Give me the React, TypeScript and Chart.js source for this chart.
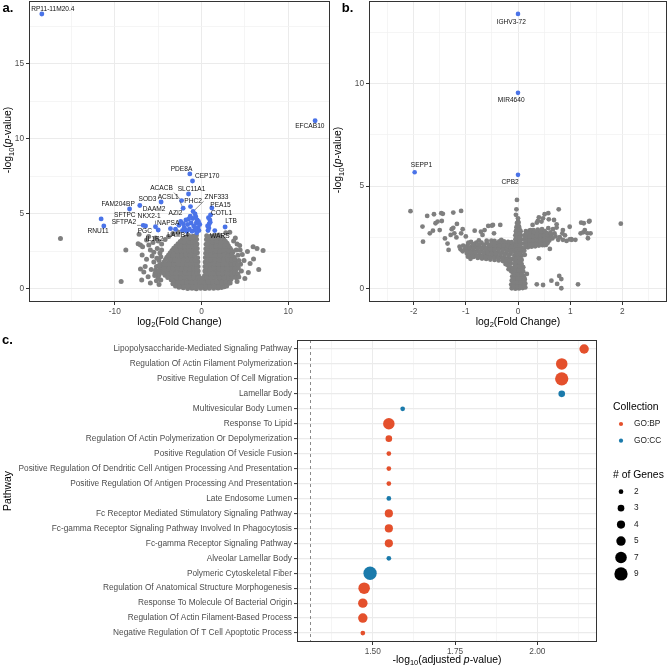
import React, { useEffect, useRef } from "react";
import { Chart, registerables } from "chart.js";
Chart.register(...registerables);

const FONT = "'Liberation Sans', Arial, Helvetica, sans-serif";

// ---------------- Panel a data ----------------
const aXTicks = [-10, 0, 10];
const aYTicks = [0, 5, 10, 15];
const aGray: [number, number][] = [
  [-2.1,0.08],[-1.6,0.03],[-1.1,0.05],[-0.6,0.02],[-0.1,0.04],[0.4,0.03],[0.9,0.05],[1.4,0.04],[1.9,0.07],[2.3,0.1],
  [-2.9,0.32],[-2.4,0.28],[-1.9,0.3],[-1.35,0.27],[-0.85,0.31],[-0.35,0.28],[0.15,0.3],[0.65,0.27],[1.15,0.31],[1.65,0.29],[2.15,0.3],[2.65,0.33],[3.05,0.36],
  [-3.5,0.62],[-3.0,0.58],[-2.5,0.6],[-2.0,0.57],[-1.5,0.61],[-1.0,0.59],[-0.5,0.6],[0.0,0.58],[0.5,0.61],[1.0,0.6],[1.5,0.57],[2.0,0.6],[2.5,0.62],[3.0,0.6],[3.4,0.64],
  [-4.2,0.92],[-3.7,0.88],[-3.2,0.9],[-2.7,0.87],[-2.2,0.91],[-1.7,0.89],[-1.2,0.9],[-0.75,0.88],[-0.36,0.92],[0.36,0.9],[0.8,0.88],[1.3,0.91],[1.8,0.9],[2.3,0.87],[2.8,0.9],[3.3,0.92],[3.7,0.95],
  [-4.6,1.22],[-4.1,1.18],[-3.6,1.2],[-3.1,1.17],[-2.6,1.21],[-2.1,1.19],[-1.6,1.2],[-1.1,1.18],[-0.7,1.22],[-0.38,1.2],[0.38,1.19],[0.75,1.21],[1.2,1.18],[1.7,1.2],[2.2,1.22],[2.7,1.19],[3.2,1.2],[3.7,1.18],[3.95,1.25],
  [-4.5,1.52],[-4.0,1.48],[-3.5,1.5],[-3.0,1.47],[-2.5,1.51],[-2.0,1.49],[-1.5,1.5],[-1.0,1.48],[-0.7,1.52],[-0.4,1.5],[0.4,1.49],[0.75,1.51],[1.2,1.48],[1.7,1.5],[2.2,1.52],[2.7,1.49],[3.2,1.5],[3.7,1.48],[3.95,1.55],
  [-4.3,1.82],[-3.8,1.78],[-3.3,1.8],[-2.8,1.77],[-2.3,1.81],[-1.8,1.79],[-1.3,1.8],[-0.85,1.78],[-0.42,1.82],[0.42,1.79],[0.8,1.81],[1.25,1.78],[1.75,1.8],[2.25,1.82],[2.75,1.79],[3.25,1.8],[3.7,1.78],[3.95,1.85],
  [-4.0,2.12],[-3.5,2.08],[-3.0,2.1],[-2.5,2.07],[-2.0,2.11],[-1.5,2.09],[-1.0,2.1],[-0.45,2.08],[0.45,2.1],[0.85,2.12],[1.3,2.08],[1.8,2.1],[2.3,2.11],[2.8,2.08],[3.3,2.1],[3.75,2.12],
  [-3.6,2.42],[-3.1,2.38],[-2.6,2.4],[-2.1,2.37],[-1.6,2.41],[-1.1,2.39],[-0.75,2.4],[-0.48,2.42],[0.48,2.38],[0.9,2.41],[1.35,2.4],[1.85,2.38],[2.35,2.42],[2.85,2.4],[3.3,2.39],[3.6,2.44],
  [-3.2,2.72],[-2.7,2.68],[-2.2,2.7],[-1.7,2.67],[-1.2,2.71],[-0.8,2.69],[-0.5,2.7],[0.5,2.68],[0.9,2.71],[1.4,2.69],[1.9,2.7],[2.4,2.72],[2.9,2.68],[3.3,2.71],
  [-2.7,3.02],[-2.2,2.98],[-1.7,3.0],[-1.2,2.97],[-0.85,3.01],[-0.53,3.0],[0.53,2.98],[0.95,3.01],[1.45,3.0],[1.95,2.98],[2.45,3.02],[2.95,3.05],
  [-2.2,3.32],[-1.7,3.28],[-1.2,3.3],[-0.85,3.27],[-0.57,3.31],[0.57,3.29],[1.0,3.31],[1.5,3.28],[2.0,3.3],[2.55,3.33],
  [-1.5,3.56],[-1.0,3.52],[-0.6,3.58],[0.6,3.55],[1.05,3.52],[1.55,3.57],[2.0,3.6],
  [-2.55,0.18],[-2.05,0.16],[-1.55,0.17],[-1.05,0.15],[-0.55,0.18],[-0.05,0.16],[0.45,0.17],[0.95,0.15],[1.45,0.18],[1.95,0.16],[2.45,0.2],[2.75,0.22],
  [-3.2,0.46],[-2.7,0.44],[-2.2,0.45],[-1.7,0.43],[-1.2,0.46],[-0.7,0.44],[-0.2,0.45],[0.3,0.43],[0.8,0.46],[1.3,0.44],[1.8,0.45],[2.3,0.43],[2.8,0.46],[3.25,0.5],
  [-3.9,0.76],[-3.4,0.74],[-2.9,0.75],[-2.4,0.73],[-1.9,0.76],[-1.4,0.74],[-0.9,0.75],[-0.45,0.73],[-0.2,0.72],[0.2,0.74],[0.6,0.75],[1.1,0.73],[1.6,0.76],[2.1,0.74],[2.6,0.75],[3.1,0.73],[3.55,0.78],
  [-4.4,1.06],[-3.9,1.04],[-3.4,1.05],[-2.9,1.03],[-2.4,1.06],[-1.9,1.04],[-1.4,1.05],[-0.9,1.03],[-0.55,1.06],[0.55,1.04],[1.0,1.05],[1.45,1.03],[1.95,1.06],[2.45,1.04],[2.95,1.05],[3.45,1.03],[3.85,1.08],
  [-4.75,1.36],[-4.3,1.34],[-3.8,1.35],[-3.3,1.33],[-2.8,1.36],[-2.3,1.34],[-1.8,1.35],[-1.3,1.33],[-0.9,1.36],[-0.55,1.34],[0.55,1.35],[0.95,1.33],[1.45,1.36],[1.95,1.34],[2.45,1.35],[2.95,1.33],[3.45,1.36],[3.85,1.38],
  [-4.55,1.66],[-4.2,1.64],[-3.7,1.65],[-3.2,1.63],[-2.7,1.66],[-2.2,1.64],[-1.7,1.65],[-1.2,1.63],[-0.85,1.66],[-0.55,1.64],[0.55,1.65],[1.0,1.63],[1.45,1.66],[1.95,1.64],[2.45,1.65],[2.95,1.63],[3.45,1.66],[3.85,1.68],
  [-4.15,1.96],[-3.6,1.94],[-3.1,1.95],[-2.6,1.93],[-2.1,1.96],[-1.6,1.94],[-1.1,1.95],[-0.7,1.93],[0.65,1.96],[1.05,1.94],[1.55,1.95],[2.05,1.93],[2.55,1.96],[3.05,1.94],[3.5,1.95],[3.85,1.98],
  [-3.8,2.26],[-3.3,2.24],[-2.8,2.25],[-2.3,2.23],[-1.8,2.26],[-1.3,2.24],[-0.8,2.25],[0.7,2.26],[1.1,2.24],[1.6,2.25],[2.1,2.23],[2.6,2.26],[3.1,2.24],[3.5,2.27],
  [-3.4,2.56],[-2.9,2.54],[-2.4,2.55],[-1.9,2.53],[-1.4,2.56],[-0.95,2.54],[-0.65,2.55],[0.7,2.56],[1.15,2.54],[1.6,2.55],[2.1,2.53],[2.6,2.56],[3.1,2.54],[3.45,2.58],
  [-2.95,2.86],[-2.45,2.84],[-1.95,2.85],[-1.45,2.83],[-1.0,2.86],[-0.68,2.84],[0.72,2.85],[1.15,2.83],[1.65,2.86],[2.15,2.84],[2.65,2.85],[3.1,2.88],
  [-2.45,3.16],[-1.95,3.14],[-1.45,3.15],[-1.0,3.13],[-0.72,3.16],[0.75,3.15],[1.25,3.13],[1.7,3.16],[2.25,3.14],[2.75,3.18],
  [-1.9,3.43],[-1.4,3.41],[-0.95,3.44],[0.8,3.42],[1.3,3.4],[1.75,3.44],[2.3,3.46],
  [-5.0,0.75],[-4.9,1.05],[-5.2,1.5],[-4.85,1.6],[-5.15,2.05],[-4.7,2.15],[-4.9,0.95],[-5.3,1.25],[-4.6,2.6],[-5.5,2.45],[-4.7,0.6],
  [4.2,1.0],[4.25,1.4],[4.3,1.9],[4.2,2.25],[4.5,1.65],[4.0,0.75],[4.45,2.6],[4.1,3.0],
  [-2.6,0.12],[-3.0,0.2],[2.6,0.14],[2.9,0.2],[-3.3,0.35],[3.3,0.4],
  [-16.27,3.36],[-8.73,2.6],[-9.27,0.49],[-7.31,3.02],[-7.2,3.64],[-7.04,2.93],[-6.8,2.82],[-6.34,3.27],[-6.1,3.5],
  [-7.04,1.33],[-6.66,1.13],[-6.5,1.49],[-6.16,0.82],[-6.34,1.98],[-6.85,2.27],[-5.9,2.6],[-5.6,3.1],[-5.3,3.4],
  [-5.0,3.2],[-5.7,2.2],[-5.5,1.8],[-5.8,1.3],[-5.4,0.9],[-5.2,0.55],[-5.9,0.4],[-4.9,0.3],[-5.1,2.7],[-4.8,2.4],
  [-4.6,3.0],[-4.2,3.3],[-3.8,3.5],[-3.3,3.7],[-2.7,3.8],[-6.9,0.6],[-4.9,1.9],[-5.0,1.2],[-6.08,2.93],[-5.35,1.05],
  [3.26,3.78],[5.95,2.82],[7.1,2.56],[6.4,2.7],[5.3,2.5],[5.6,1.7],[5.4,1.1],[5.0,0.7],[4.7,2.3],[4.4,2.9],
  [4.2,1.6],[4.6,1.2],[4.3,0.8],[4.0,2.6],[3.7,3.2],[4.9,1.9],[6.0,2.0],[6.6,1.3],[4.1,0.5],[2.8,3.75],[3.9,3.4],
];
const aBlue: [number, number][] = [
  [-18.42,18.33],[13.1,11.22],[-1.35,7.67],[-1.04,7.2],[-1.5,6.33],[-2.3,5.89],[-2.12,5.38],[-1.27,5.49],[-0.97,5.16],
  [-4.66,5.8],[-7.12,5.56],[-8.3,5.33],[-11.58,4.67],[-11.27,4.2],[-6.73,4.24],[-6.46,4.2],[-5.31,4.15],[-5.0,3.93],
  [-3.58,4.02],[-3.0,3.98],[1.19,5.4],[1.04,4.93],[0.96,4.6],[0.88,4.33],[0.85,4.07],[1.53,3.89],[2.72,4.13],
  [-0.66,4.82],[0.75,3.9],[0.7,4.2],[1.0,4.45],[0.8,4.75],
  [-1.8,4.6],[-2.4,4.5],[-1.6,4.3],[-1.2,4.4],[-0.9,4.2],[-0.6,4.4],[-0.4,4.1],[-0.3,3.9],[-0.8,3.95],[-1.4,4.0],
  [-2.0,4.1],[-2.6,4.25],[-1.0,4.7],[-0.5,4.6],[-2.2,3.9],[-1.7,3.85],[-0.2,4.3],[-1.3,4.85],[-0.75,5.0],
  [-1.1,3.85],[-0.55,3.75],[-1.9,3.95],[-0.35,4.5],[-1.5,4.65],[-2.1,4.35],[-0.7,4.05],
];
const aLabelGenes = [
  "RP11-11M20.4","EFCAB10","PDE8A","CEP170","ACACB","SLC11A1","ZNF333","ACSL1","PHC2","SOD3","FAM204BP","PEA15",
  "DAAM2","SFTPC","NKX2-1","AZI2","COTL1","LTB","SFTPA2","NAPSA","RNU11","PGC","LAMB4","IL1R2","WARS",
];
const aLabelPoints: [number, number][] = [
  [-18.42,18.33],[13.1,11.22],[-1.35,7.67],[-1.04,7.2],[-2.3,5.89],[-1.5,6.33],[-0.97,5.16],[-2.12,5.38],[-1.27,5.49],
  [-4.66,5.8],[-8.3,5.33],[1.19,5.4],[-7.12,5.56],[-8.3,5.33],[-5.31,4.15],[-1.8,4.6],[1.04,4.93],[2.72,4.13],
  [-6.73,4.24],[-3.58,4.02],[-11.27,4.2],[-6.46,4.2],[-3.0,3.98],[-5.0,3.93],[1.53,3.89],
];
const aLabelSpots: [number, number][] = [
  [-17.15,18.65],[12.49,10.87],[-2.31,7.98],[0.65,7.49],[-4.61,6.69],[-1.15,6.65],[1.73,6.11],[-3.85,6.15],[-0.97,5.85],
  [-6.23,5.98],[-9.62,5.67],[2.19,5.58],[-5.47,5.33],[-8.85,4.93],[-6.04,4.82],[-3.0,5.05],[2.31,5.05],[3.41,4.51],
  [-8.96,4.42],[-3.85,4.38],[-11.93,3.85],[-6.54,3.85],[-2.7,3.58],[-5.42,3.35],[2.11,3.49],
];

// ---------------- Panel b data ----------------
const bXTicks = [-2, -1, 0, 1, 2];
const bYTicks = [0, 5, 10];
const bGray: [number, number][] = [
  [-2.06,3.78],[-1.83,3.03],[-1.74,3.55],[-1.61,3.63],[-1.63,2.83],[-1.58,3.19],[-1.54,3.27],[-1.47,3.68],[-1.44,3.65],
  [-1.46,3.3],[-1.24,3.71],[-1.09,3.79],[-1.17,3.16],[-1.27,2.9],[-1.24,2.97],[-1.09,2.7],[-1.29,2.62],[-1.22,2.7],
  [-1.06,2.9],[-1.33,1.89],[-0.91,1.46],[-0.83,2.83],[-0.57,3.06],[-0.48,3.11],[-0.34,3.11],[-0.68,2.62],[-0.71,2.78],
  [-0.46,2.7],[-1.69,2.7],[-1.82,2.29],[-1.5,2.86],[-0.96,1.56],[-0.64,2.86],[-0.5,3.07],[-0.64,1.73],[-1.4,2.45],
  [-1.35,2.2],[-1.18,2.5],[-1.12,2.05],[-1.0,2.55],[-0.95,2.25],[-0.32,2.38],[-0.51,2.34],
  [-0.85,1.55],[-0.77,1.5],[-0.69,1.47],[-0.61,1.45],[-0.53,1.42],[-0.45,1.4],[-0.37,1.38],[-0.29,1.35],[-0.21,1.3],[-0.14,1.25],
  [-0.98,1.72],[-0.9,1.7],[-0.82,1.68],[-0.74,1.66],[-0.66,1.65],[-0.58,1.64],[-0.5,1.62],[-0.42,1.6],[-0.34,1.58],[-0.26,1.55],[-0.18,1.5],[-0.12,1.45],
  [-1.1,1.92],[-1.02,1.9],[-0.94,1.88],[-0.86,1.87],[-0.78,1.86],[-0.7,1.85],[-0.62,1.84],[-0.54,1.83],[-0.46,1.82],[-0.38,1.8],[-0.3,1.78],[-0.22,1.75],[-0.14,1.7],
  [-1.05,2.1],[-0.97,2.08],[-0.89,2.06],[-0.81,2.05],[-0.73,2.04],[-0.65,2.03],[-0.57,2.03],[-0.49,2.02],[-0.41,2.01],[-0.33,2.0],[-0.25,1.98],[-0.17,1.95],[-0.11,1.9],
  [-0.9,2.28],[-0.8,2.25],[-0.7,2.24],[-0.6,2.23],[-0.5,2.24],[-0.4,2.22],[-0.32,2.2],[-0.24,2.2],[-0.16,2.18],[-0.1,2.15],
  [-0.94,1.62],[-0.86,1.6],[-0.78,1.58],[-0.7,1.57],[-0.62,1.55],[-0.54,1.54],[-0.46,1.52],[-0.38,1.5],[-0.3,1.47],[-0.22,1.43],[-0.15,1.37],
  [-1.06,1.82],[-0.98,1.8],[-0.9,1.78],[-0.82,1.77],[-0.74,1.76],[-0.66,1.75],[-0.58,1.74],[-0.5,1.73],[-0.42,1.71],[-0.34,1.69],[-0.26,1.66],[-0.18,1.62],
  [-1.0,2.0],[-0.93,1.98],[-0.85,1.97],[-0.77,1.96],[-0.69,1.95],[-0.61,1.94],[-0.53,1.93],[-0.45,1.92],[-0.37,1.9],[-0.29,1.89],[-0.21,1.86],[-0.14,1.82],
  [-0.95,2.2],[-0.85,2.17],[-0.75,2.15],[-0.65,2.14],[-0.55,2.13],[-0.45,2.12],[-0.36,2.11],[-0.28,2.1],[-0.2,2.08],[-0.13,2.05],
  [-0.75,2.36],[-0.6,2.34],[-0.45,2.33],[-0.36,2.3],[-0.27,2.3],[-0.19,2.28],[-0.12,2.27],
  [-0.2,1.15],[-0.15,1.05],[-0.18,0.95],[-0.13,0.85],[-0.24,1.2],
  [-0.12,0.02],[-0.05,0.0],[0.02,0.01],[0.09,0.03],[0.14,0.06],
  [-0.13,0.2],[-0.06,0.18],[0.01,0.2],[0.08,0.22],[0.14,0.25],
  [-0.12,0.4],[-0.05,0.38],[0.02,0.41],[0.09,0.42],[0.13,0.45],
  [-0.11,0.6],[-0.04,0.58],[0.03,0.61],[0.1,0.63],
  [-0.1,0.8],[-0.03,0.78],[0.04,0.81],[0.1,0.84],
  [-0.09,1.0],[-0.02,0.98],[0.05,1.01],[0.1,1.05],
  [-0.09,0.1],[-0.02,0.1],[0.05,0.1],[0.12,0.12],[-0.09,0.3],[-0.02,0.3],[0.05,0.3],[0.12,0.33],
  [-0.08,0.5],[-0.01,0.5],[0.06,0.5],[0.12,0.52],[-0.07,0.7],[0.0,0.7],[0.07,0.7],[-0.06,0.9],[0.01,0.9],[0.08,0.92],
  [-0.07,1.2],[0.0,1.22],[0.07,1.2],[-0.07,1.4],[0.0,1.42],[0.07,1.4],[-0.07,1.6],[0.0,1.62],[0.07,1.6],
  [-0.07,1.8],[0.0,1.82],[0.07,1.8],[-0.06,2.0],[0.0,2.02],[0.06,2.0],[-0.06,2.2],[0.0,2.22],[0.06,2.2],
  [-0.05,2.4],[0.0,2.42],[0.05,2.4],[-0.05,2.6],[0.0,2.62],[0.05,2.6],[-0.04,2.8],[0.01,2.82],[0.05,2.8],
  [-0.03,3.0],[0.02,3.02],[-0.02,3.2],[0.01,3.22],[0.0,3.43],[0.0,3.27],[-0.04,3.6],[-0.03,3.87],[-0.02,4.33],
  [-0.035,1.1],[0.035,1.1],[-0.035,1.3],[0.035,1.3],[-0.035,1.5],[0.035,1.5],[-0.035,1.7],[0.035,1.7],
  [-0.035,1.9],[0.035,1.9],[-0.035,2.1],[0.035,2.1],[-0.03,2.3],[0.03,2.3],[-0.03,2.5],[0.03,2.5],
  [-0.025,2.7],[0.03,2.7],[-0.02,2.9],[0.03,2.9],[0.0,3.1],
  [0.12,1.98],[0.19,2.02],[0.26,2.05],[0.33,2.07],[0.4,2.1],[0.47,2.12],[0.54,2.14],
  [0.12,2.2],[0.19,2.23],[0.26,2.25],[0.33,2.27],[0.4,2.3],[0.47,2.31],[0.54,2.33],[0.6,2.35],
  [0.11,2.4],[0.18,2.43],[0.25,2.45],[0.32,2.47],[0.39,2.5],[0.46,2.51],[0.53,2.52],[0.6,2.55],
  [0.12,2.6],[0.19,2.63],[0.26,2.65],[0.33,2.67],[0.4,2.7],[0.47,2.7],[0.54,2.72],
  [0.15,2.8],[0.22,2.83],[0.3,2.86],[0.38,2.88],[0.46,2.9],[0.12,1.85],[0.13,1.65],
  [0.15,2.12],[0.22,2.14],[0.29,2.16],[0.36,2.18],[0.43,2.2],[0.5,2.22],[0.57,2.24],
  [0.15,2.32],[0.22,2.34],[0.29,2.36],[0.36,2.38],[0.43,2.4],[0.5,2.41],[0.57,2.43],
  [0.15,2.52],[0.22,2.54],[0.29,2.56],[0.36,2.58],[0.43,2.6],[0.5,2.61],[0.57,2.63],
  [0.16,2.72],[0.23,2.74],[0.3,2.76],[0.37,2.78],[0.44,2.8],[0.51,2.81],
  [0.78,3.87],[0.4,3.48],[0.51,3.63],[0.59,3.38],[0.69,3.35],[0.36,3.22],[0.45,3.27],[0.74,3.14],[0.99,3.02],
  [1.26,3.19],[1.36,3.27],[1.97,3.17],[1.2,2.7],[1.25,2.75],[1.39,2.7],[1.34,2.46],[1.03,2.38],[0.93,2.33],
  [0.99,2.4],[0.8,2.51],[0.77,2.38],[0.61,1.94],[0.4,1.48],[0.51,2.13],[0.64,2.62],[0.86,2.86],[0.67,2.9],
  [0.74,2.98],[1.21,3.22],[1.28,2.86],[1.37,3.3],[1.33,2.7],[1.1,2.38],[1.02,2.42],[0.86,2.38],[0.58,3.68],
  [0.48,3.43],[0.38,3.3],[0.28,3.11],[0.24,2.86],[0.7,2.7],[0.62,2.75],[0.66,2.45],[0.72,2.55],[0.58,2.95],
  [0.9,2.6],[0.85,2.7],
  [0.17,0.72],[0.36,0.21],[0.48,0.18],[0.64,0.39],[0.75,0.23],[0.79,0.62],[0.83,0.47],[0.83,0.02],[1.15,0.21],
];
const bBlue: [number, number][] = [[0, 13.4], [0, 9.55], [-1.98, 5.68], [0, 5.55]];
const bLabelGenes = ["IGHV3-72", "MIR4640", "SEPP1", "CPB2"];
const bLabelPoints: [number, number][] = [[0, 13.4], [0, 9.55], [-1.98, 5.68], [0, 5.55]];
const bLabelSpots: [number, number][] = [[-0.13, 13.01], [-0.13, 9.2], [-1.85, 6.0], [-0.15, 5.17]];

// ---------------- Panel c data ----------------
const pathways = [
  "Lipopolysaccharide-Mediated Signaling Pathway",
  "Regulation Of Actin Filament Polymerization",
  "Positive Regulation Of Cell Migration",
  "Lamellar Body",
  "Multivesicular Body Lumen",
  "Response To Lipid",
  "Regulation Of Actin Polymerization Or Depolymerization",
  "Positive Regulation Of Vesicle Fusion",
  "Positive Regulation Of Dendritic Cell Antigen Processing And Presentation",
  "Positive Regulation Of Antigen Processing And Presentation",
  "Late Endosome Lumen",
  "Fc Receptor Mediated Stimulatory Signaling Pathway",
  "Fc-gamma Receptor Signaling Pathway Involved In Phagocytosis",
  "Fc-gamma Receptor Signaling Pathway",
  "Alveolar Lamellar Body",
  "Polymeric Cytoskeletal Fiber",
  "Regulation Of Anatomical Structure Morphogenesis",
  "Response To Molecule Of Bacterial Origin",
  "Regulation Of Actin Filament-Based Process",
  "Negative Regulation Of T Cell Apoptotic Process",
];
const pathwayScore = [2.142, 2.074, 2.074, 2.074, 1.591, 1.549, 1.549, 1.549, 1.549, 1.549, 1.549, 1.549, 1.549, 1.549, 1.549, 1.492, 1.474, 1.47, 1.47, 1.47];
const pathwayGenes = [5, 7, 9, 3, 2, 7, 3, 2, 2, 2, 2, 4, 4, 4, 2, 9, 7, 5, 5, 2];
const pathwayCollection = ["GO:BP","GO:BP","GO:BP","GO:CC","GO:CC","GO:BP","GO:BP","GO:BP","GO:BP","GO:BP","GO:CC","GO:BP","GO:BP","GO:BP","GO:CC","GO:CC","GO:BP","GO:BP","GO:BP","GO:BP"];
const collections = ["GO:BP", "GO:CC"];
const geneSizeBreaks = [2, 3, 4, 5, 7, 9];
const cXTicks = [1.5, 1.75, 2.0];
const significanceLine = 1.31;

// ---------------- styles ----------------
const GRAY = "#7F7F7F";
const BLUE = "#4A73E8";
const collectionColor: Record<string, string> = { "GO:BP": "#E4502C", "GO:CC": "#1A7AAB" };
const radiusFor = (n: number) => Math.sqrt(5.53 * n - 5.5);

type Seg = { t: string; sub?: boolean; it?: boolean };

function drawRich(ctx: CanvasRenderingContext2D, segs: Seg[], x: number, y: number, size: number, rot = false, bold = false) {
  ctx.save();
  ctx.translate(x, y);
  if (rot) ctx.rotate(-Math.PI / 2);
  const fontFor = (s: Seg) => `${s.it ? "italic " : ""}${bold ? "bold " : ""}${s.sub ? size * 0.72 : size}px ${FONT}`;
  let total = 0;
  const widths = segs.map((s) => {
    ctx.font = fontFor(s);
    const w = ctx.measureText(s.t).width;
    total += w;
    return w;
  });
  let cx = -total / 2;
  ctx.textBaseline = "middle";
  ctx.textAlign = "left";
  ctx.fillStyle = "#000";
  segs.forEach((s, i) => {
    ctx.font = fontFor(s);
    ctx.fillText(s.t, cx, s.sub ? size * 0.3 : 0);
    cx += widths[i];
  });
  ctx.restore();
}

type TitleItem = { segs: Seg[]; x: (c: any) => number; y: (c: any) => number; size: number; rot?: boolean; bold?: boolean };
function titlesPlugin(items: TitleItem[]) {
  return {
    id: "richTitles",
    afterDraw(chart: any) {
      items.forEach((it) => drawRich(chart.ctx, it.segs, it.x(chart), it.y(chart), it.size, it.rot, it.bold));
    },
  };
}

const framePlugin = {
  id: "frame",
  afterDatasetsDraw(chart: any) {
    const { ctx, chartArea: a } = chart;
    ctx.save();
    ctx.strokeStyle = "#333333";
    ctx.lineWidth = 1;
    ctx.strokeRect(Math.round(a.left) + 0.5, Math.round(a.top) + 0.5, Math.round(a.right - a.left) - 1, Math.round(a.bottom - a.top) - 1);
    ctx.restore();
  },
};

function repelLabels(genes: string[], pts: [number, number][], spots: [number, number][]) {
  return {
    id: "repelLabels",
    afterDatasetsDraw(chart: any) {
      const { ctx } = chart;
      const x = chart.scales.x, y = chart.scales.y;
      ctx.save();
      ctx.font = `6.6px ${FONT}`;
      ctx.textAlign = "center";
      ctx.textBaseline = "middle";
      genes.forEach((g, i) => {
        const px = x.getPixelForValue(pts[i][0]), py = y.getPixelForValue(pts[i][1]);
        const lx = x.getPixelForValue(spots[i][0]), ly = y.getPixelForValue(spots[i][1]);
        const hw = ctx.measureText(g).width / 2 + 1, hh = 4;
        const cx = Math.max(lx - hw, Math.min(px, lx + hw));
        const cy = Math.max(ly - hh, Math.min(py, ly + hh));
        const d = Math.hypot(px - cx, py - cy);
        if (d > 6) {
          const ex = px - ((px - cx) / d) * 2.5, ey = py - ((py - cy) / d) * 2.5;
          ctx.beginPath();
          ctx.moveTo(cx, cy);
          ctx.lineTo(ex, ey);
          ctx.strokeStyle = "#222";
          ctx.lineWidth = 0.5;
          ctx.stroke();
        }
        ctx.fillStyle = "#111";
        ctx.fillText(g, lx, ly);
      });
      ctx.restore();
    },
  };
}

function axis(o: { min: number; max: number; majors: number[]; fmt: (v: number) => string; size: number; horizontal: boolean; reverse?: boolean; minor?: boolean; majorWidth?: number; fontSize?: number }) {
  const step = o.majors.length > 1 ? o.majors[1] - o.majors[0] : 1;
  const minors = o.minor === false ? [] : [...o.majors.map((m) => m - step / 2), o.majors[o.majors.length - 1] + step / 2].filter((v) => v >= o.min && v <= o.max);
  const isMajor = (v: number) => o.majors.some((m) => Math.abs(m - v) < 1e-9);
  const all = [...o.majors, ...minors].sort((a, b) => a - b);
  return {
    type: "linear",
    min: o.min,
    max: o.max,
    reverse: !!o.reverse,
    afterBuildTicks: (s: any) => {
      s.ticks = all.map((v) => ({ value: v }));
    },
    afterFit: (s: any) => {
      if (o.horizontal) s.height = o.size;
      else s.width = o.size;
      s.paddingTop = 0; s.paddingBottom = 0; s.paddingLeft = 0; s.paddingRight = 0;
    },
    border: { display: false },
    grid: {
      color: (c: any) => (c.tick && isMajor(c.tick.value) ? "#EBEBEB" : "#F3F3F3"),
      lineWidth: (c: any) => (c.tick && isMajor(c.tick.value) ? o.majorWidth ?? 1 : 0.8),
      drawTicks: true,
      tickLength: 3,
      tickColor: (c: any) => (c.tick && isMajor(c.tick.value) ? "#333333" : "rgba(0,0,0,0)"),
      tickWidth: 1,
    },
    ticks: {
      autoSkip: false,
      maxRotation: 0,
      minRotation: 0,
      padding: 2,
      color: "#4D4D4D",
      font: { family: FONT, size: o.fontSize ?? 8.3 },
      callback: (v: any) => (isMajor(Number(v)) ? o.fmt(Number(v)) : ""),
    },
    title: { display: false },
  };
}

const baseOptions = (padding: any) => ({
  responsive: false,
  animation: false,
  devicePixelRatio: 1,
  events: [],
  layout: { autoPadding: false, padding },
  plugins: { legend: { display: false }, tooltip: { enabled: false } },
});

const pValueTitle: Seg[] = [{ t: "-log" }, { t: "10", sub: true }, { t: "(" }, { t: "p", it: true }, { t: "-value)" }];
const fcTitle: Seg[] = [{ t: "log" }, { t: "2", sub: true }, { t: "(Fold Change)" }];

function pointSet(data: [number, number][], color: string, r: number) {
  return {
    data: data.map(([x, y]) => ({ x, y })),
    pointRadius: r,
    pointHoverRadius: r,
    pointBackgroundColor: color,
    pointBorderWidth: 0,
    showLine: false,
  };
}

function makeA(): any {
  return {
    type: "scatter",
    data: { datasets: [pointSet(aBlue, BLUE, 2.45), pointSet(aGray, GRAY, 2.5)] },
    options: {
      ...baseOptions({ left: 0, right: 1, top: 1, bottom: 0 }),
      scales: {
        x: axis({ min: -19.9, max: 14.82, majors: aXTicks, fmt: String, size: 28, horizontal: true }),
        y: axis({ min: -0.87, max: 19.2, majors: aYTicks, fmt: String, size: 29, horizontal: false }),
      },
    },
    plugins: [
      framePlugin,
      repelLabels(aLabelGenes, aLabelPoints, aLabelSpots),
      titlesPlugin([
        { segs: fcTitle, x: (c) => (c.chartArea.left + c.chartArea.right) / 2, y: (c) => c.chartArea.bottom + 20, size: 10.4 },
        { segs: pValueTitle, x: () => 8.5, y: () => 140, size: 10.4, rot: true },
        { segs: [{ t: "a." }], x: () => 8, y: () => 8, size: 13, bold: true },
      ]),
    ],
  };
}

function makeB(): any {
  return {
    type: "scatter",
    data: { datasets: [pointSet(bBlue, BLUE, 2.3), pointSet(bGray, GRAY, 2.4)] },
    options: {
      ...baseOptions({ left: 0, right: 2, top: 1, bottom: 0 }),
      scales: {
        x: axis({ min: -2.855, max: 2.855, majors: bXTicks, fmt: String, size: 28, horizontal: true }),
        y: axis({ min: -0.65, max: 14.03, majors: bYTicks, fmt: String, size: 38, horizontal: false }),
      },
    },
    plugins: [
      framePlugin,
      repelLabels(bLabelGenes, bLabelPoints, bLabelSpots),
      titlesPlugin([
        { segs: fcTitle, x: (c) => (c.chartArea.left + c.chartArea.right) / 2, y: (c) => c.chartArea.bottom + 20, size: 10.4 },
        { segs: pValueTitle, x: () => 7.5, y: () => 160, size: 10.4, rot: true },
        { segs: [{ t: "b." }], x: () => 16.5, y: () => 8, size: 13, bold: true },
      ]),
    ],
  };
}

const dashPlugin = {
  id: "sigLine",
  beforeDatasetsDraw(chart: any) {
    const { ctx, chartArea: a } = chart;
    const x = Math.round(chart.scales.x.getPixelForValue(significanceLine)) + 0.5;
    ctx.save();
    ctx.strokeStyle = "#8A8A8A";
    ctx.lineWidth = 1;
    ctx.setLineDash([3, 3]);
    ctx.beginPath();
    ctx.moveTo(x, a.top);
    ctx.lineTo(x, a.bottom);
    ctx.stroke();
    ctx.restore();
  },
};

const legendPlugin = {
  id: "dotLegend",
  afterDraw(chart: any) {
    const ctx: CanvasRenderingContext2D = chart.ctx;
    ctx.save();
    ctx.textAlign = "left";
    ctx.textBaseline = "middle";
    ctx.fillStyle = "#000";
    ctx.font = `10.4px ${FONT}`;
    ctx.fillText("Collection", 613, 76.7);
    collections.forEach((c, i) => {
      const yy = 94 + i * 16.7;
      ctx.fillStyle = collectionColor[c];
      ctx.beginPath();
      ctx.arc(621, yy, 2.1, 0, Math.PI * 2);
      ctx.fill();
      ctx.fillStyle = "#1A1A1A";
      ctx.font = `8.3px ${FONT}`;
      ctx.fillText(c, 634, yy);
    });
    ctx.fillStyle = "#000";
    ctx.font = `10.4px ${FONT}`;
    ctx.fillText("# of Genes", 613, 145);
    geneSizeBreaks.forEach((n, i) => {
      const yy = 161.7 + i * 16.45;
      ctx.fillStyle = "#000";
      ctx.beginPath();
      ctx.arc(621, yy, radiusFor(n), 0, Math.PI * 2);
      ctx.fill();
      ctx.fillStyle = "#1A1A1A";
      ctx.font = `8.3px ${FONT}`;
      ctx.fillText(String(n), 634, yy);
    });
    ctx.restore();
  },
};

function makeC(): any {
  const datasets = collections.map((c) => ({
    data: pathways
      .map((p, i) => ({ x: pathwayScore[i], y: i, n: pathwayGenes[i], c: pathwayCollection[i] }))
      .filter((d) => d.c === c),
    pointRadius: (ctx: any) => radiusFor(ctx.raw ? ctx.raw.n : 2),
    pointHoverRadius: (ctx: any) => radiusFor(ctx.raw ? ctx.raw.n : 2),
    pointBackgroundColor: collectionColor[c],
    pointBorderWidth: 0,
    showLine: false,
  }));
  const yTicks = pathways.map((_, i) => i);
  return {
    type: "scatter",
    data: { datasets },
    options: {
      ...baseOptions({ left: 0, right: 72, top: 10, bottom: 0 }),
      scales: {
        x: axis({ min: 1.2701, max: 2.1811, majors: cXTicks, fmt: (v) => v.toFixed(2), size: 26, horizontal: true }),
        y: axis({ min: -0.6, max: 19.6, majors: yTicks, fmt: (v) => pathways[Math.round(v)] ?? "", size: 297, horizontal: false, reverse: true, minor: false, majorWidth: 1.2 }),
      },
    },
    plugins: [
      dashPlugin,
      framePlugin,
      legendPlugin,
      titlesPlugin([
        { segs: [{ t: "-log" }, { t: "10", sub: true }, { t: "(adjusted " }, { t: "p", it: true }, { t: "-value)" }], x: (c) => (c.chartArea.left + c.chartArea.right) / 2, y: (c) => c.chartArea.bottom + 18, size: 10.4 },
        { segs: [{ t: "Pathway" }], x: () => 8.5, y: () => 161, size: 10.4, rot: true },
        { segs: [{ t: "c." }], x: () => 7.5, y: () => 10.8, size: 13, bold: true },
      ]),
    ],
  };
}

function ChartBox({ make, left, top, width, height }: { make: () => any; left: number; top: number; width: number; height: number }) {
  const ref = useRef<HTMLCanvasElement | null>(null);
  useEffect(() => {
    if (!ref.current) return;
    const chart = new Chart(ref.current, make());
    return () => chart.destroy();
  }, [make]);
  return <canvas ref={ref} width={width} height={height} style={{ position: "absolute", left, top, width, height }} />;
}

export default function App() {
  return (
    <div style={{ position: "fixed", left: 0, top: 0, width: 669, height: 668, background: "#fff", overflow: "hidden" }}>
      <ChartBox make={makeA} left={0} top={0} width={331} height={330} />
      <ChartBox make={makeB} left={331} top={0} width={338} height={330} />
      <ChartBox make={makeC} left={0} top={330} width={669} height={338} />
    </div>
  );
}
